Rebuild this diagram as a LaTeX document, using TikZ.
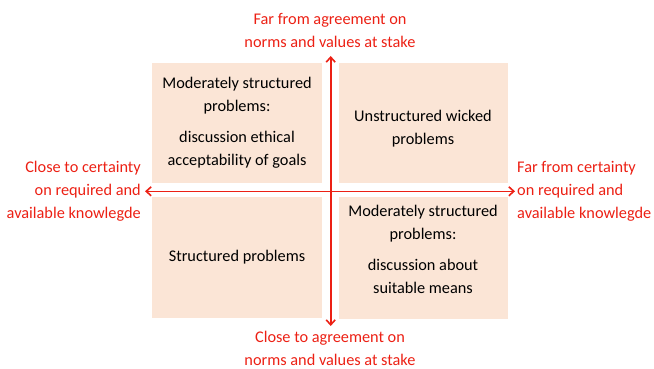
\documentclass[tikz,border=0pt]{standalone}
\usepackage{fontspec}
\setmainfont{Carlito}
\usetikzlibrary{arrows.meta}
\definecolor{boxfill}{RGB}{251,229,214}
\definecolor{axred}{RGB}{236,32,20}
\tikzset{
  quad/.style={fill=boxfill, draw=none},
  qtext/.style={align=center, font=\fontsize{16.3}{23}\selectfont, text=black, inner sep=0pt},
  axlabel/.style={font=\fontsize{16.3}{23}\selectfont, text=axred, inner sep=0pt},
  axis/.style={draw=axred, line width=1.6pt, {Straight Barb[length=5pt,width=9pt]}-{Straight Barb[length=5pt,width=9pt]}}
}
\begin{document}
\begin{tikzpicture}[x=1pt,y=-1pt]
\useasboundingbox (0,0) rectangle (654,369);
% quadrants
\fill[quad] (152,63) rectangle (322,183);
\fill[quad] (339,63) rectangle (508,183);
\fill[quad] (152,197) rectangle (322,318);
\fill[quad] (339,197) rectangle (508,319);
\node[qtext] (tl) at (237,123) {Moderately structured\\problems:\\[8pt]discussion ethical\\acceptability of goals};
\node[qtext] (tr) at (423,129) {Unstructured wicked\\problems};
\node[qtext] (bl) at (237,257) {Structured problems};
\node[qtext] (br) at (423,249) {Moderately structured\\problems:\\[8pt]discussion about\\suitable means};
% axes
\coordinate (top) at (330.7,56);
\coordinate (bot) at (330.7,326);
\coordinate (lft) at (145,191.3);
\coordinate (rgt) at (515,191.3);
\draw[axis] (bot) -- (top);
\draw[axis] (lft) -- (rgt);
% labels
\node[axlabel, align=center] (lt) at (330,30.5) {Far from agreement on\\norms and values at stake};
\node[axlabel, align=center] (lb) at (330,348.5) {Close to agreement on\\norms and values at stake};
\node[axlabel, align=right, anchor=east] (ll) at (141,191) {Close to certainty\\on required and\\available knowlegde};
\node[axlabel, align=left, anchor=west] (lr) at (517,191) {Far from certainty\\on required and\\available knowlegde};
\end{tikzpicture}
\end{document}
